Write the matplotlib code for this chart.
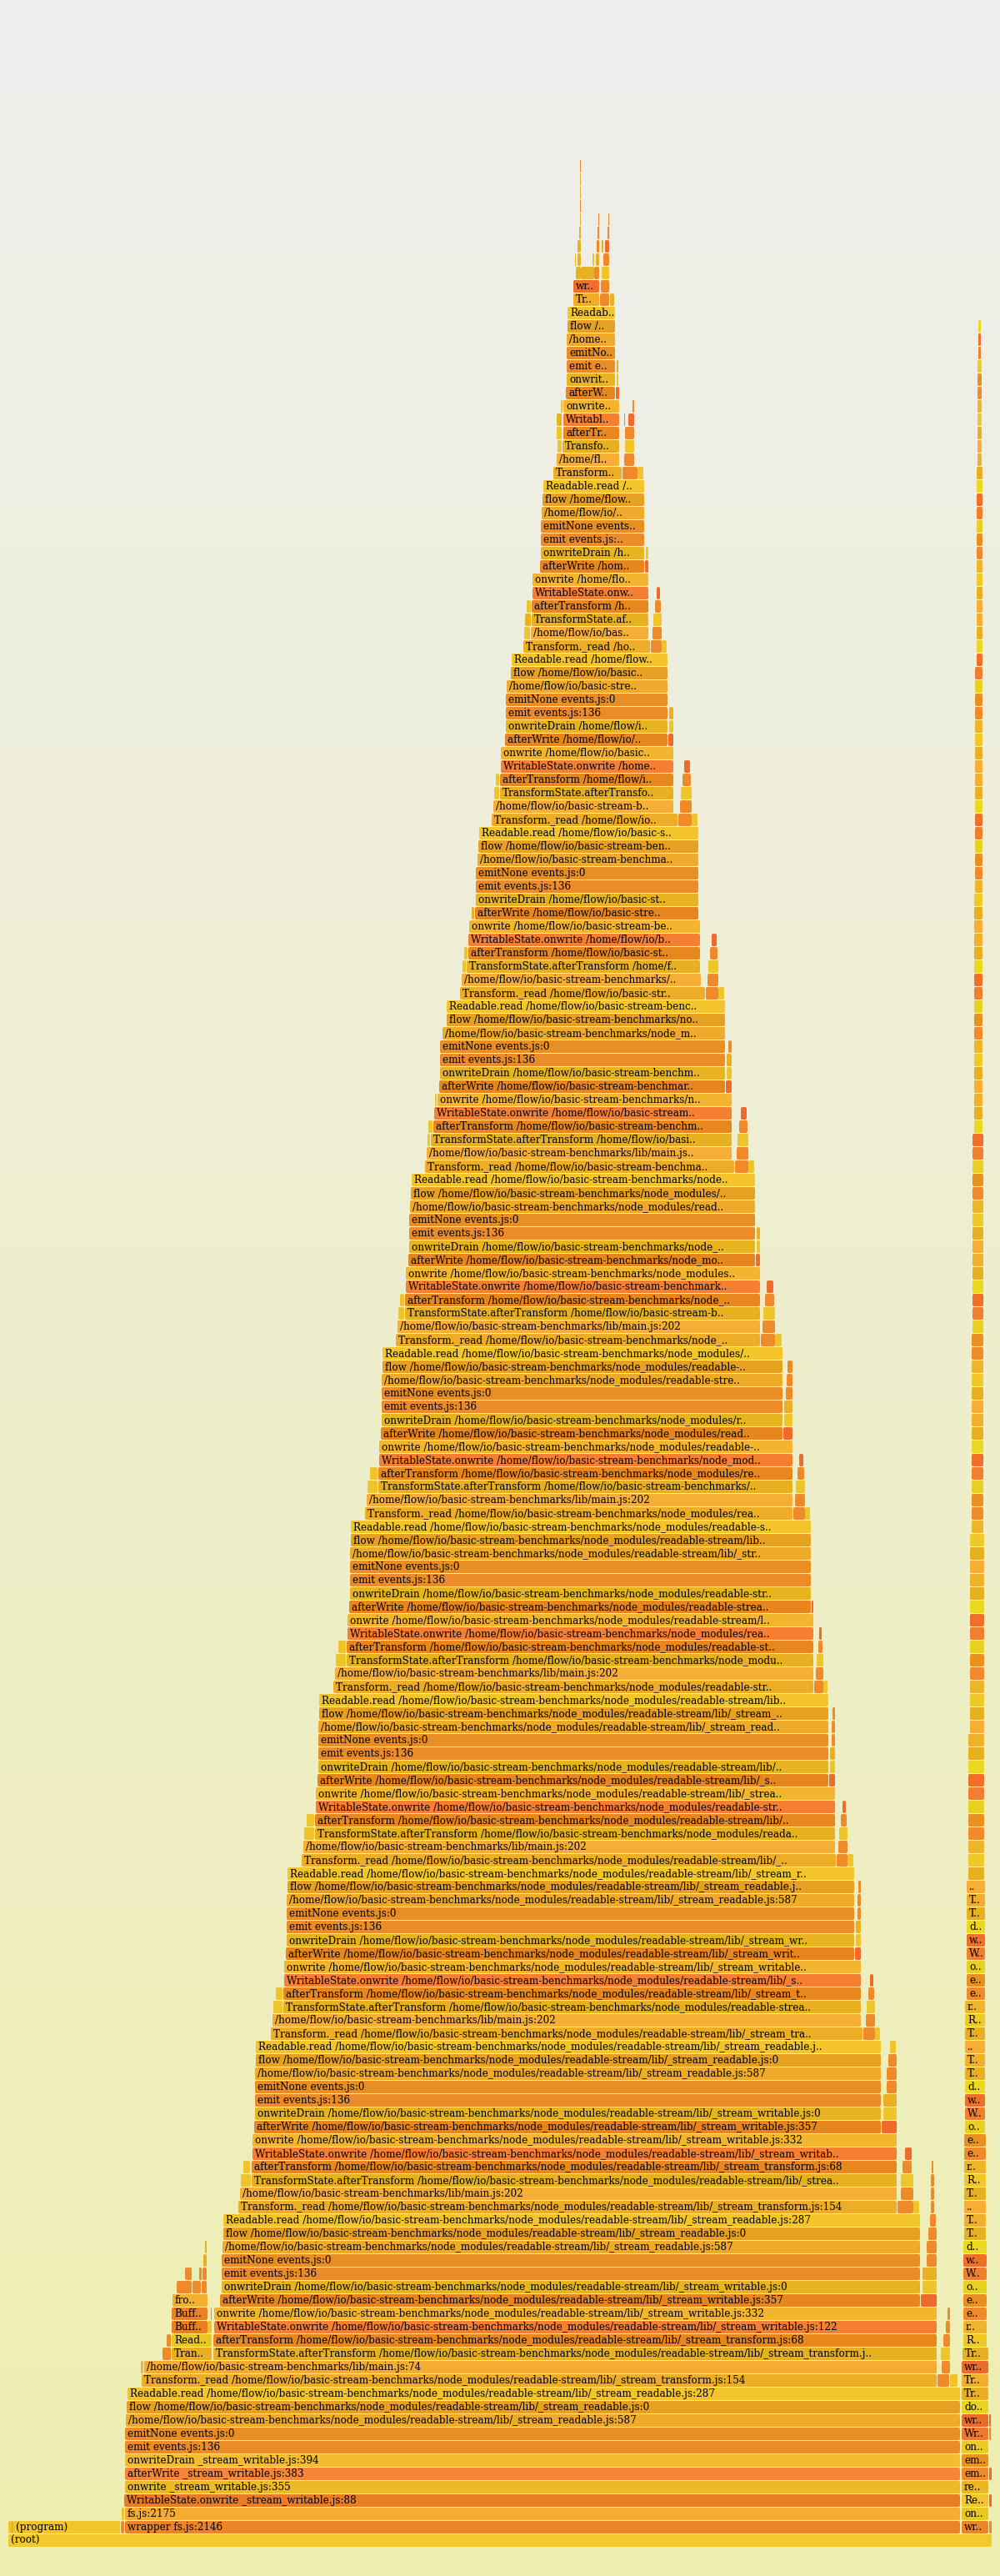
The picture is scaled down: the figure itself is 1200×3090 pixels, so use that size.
import numpy as np
import matplotlib
matplotlib.use('Agg')
import matplotlib.pyplot as plt
from matplotlib.patches import FancyBboxPatch
from matplotlib.colors import LinearSegmentedColormap

P = "/home/flow/io/basic-stream-benchmarks/node_modules/readable-stream/lib"

# frame names (a leading space marks anonymous frames, as in the profile)
names = {
    'root': "(root)",
    'program': "(program)",
    'wrapper': "wrapper fs.js:2146",
    'fs2175': "fs.js:2175",
    'wso88': "WritableState.onwrite _stream_writable.js:88",
    'ow355': "onwrite _stream_writable.js:355",
    'aw383': "afterWrite _stream_writable.js:383",
    'od394': "onwriteDrain _stream_writable.js:394",
    'emit': "emit events.js:136",
    'emitNone': "emitNone events.js:0",
    'r587': " " + P + "/_stream_readable.js:587",
    'flow': "flow " + P + "/_stream_readable.js:0",
    'rr': "Readable.read " + P + "/_stream_readable.js:287",
    'tr': "Transform._read " + P + "/_stream_transform.js:154",
    'm74': "/home/flow/io/basic-stream-benchmarks/lib/main.js:74",
    'm202': "/home/flow/io/basic-stream-benchmarks/lib/main.js:202",
    'tsa': "TransformState.afterTransform " + P + "/_stream_transform.js:79",
    'at': "afterTransform " + P + "/_stream_transform.js:68",
    'wso': "WritableState.onwrite " + P + "/_stream_writable.js:122",
    'ow': "onwrite " + P + "/_stream_writable.js:332",
    'aw': "afterWrite " + P + "/_stream_writable.js:357",
    'od': "onwriteDrain " + P + "/_stream_writable.js:0",
    'wob': "writeOrBuffer " + P + "/_stream_writable.js:300",
    'tpush': "Transform.push " + P + "/_stream_transform.js:139",
    'rpush': "Readable.push " + P + "/_stream_readable.js:125",
    'bfrom': "Buffer.from buffer.js:0",
    'bfrom2': "Buffer.from buffer.js:86",
    'fromstr': "fromString buffer.js:0",
    'c_T': "TransformState.afterTransform",
    'c_R': "Readable.push",
    'c_r': "readableAddChunk",
    'c_e1': "emitOne events.js:96",
    'c_e2': "emit events.js:188",
    'c_o': "ondata",
    'c_W': "Writable.write",
    'c_w': "writeOrBuffer",
    'c_d': "doWrite",
    'c_T2': "Transform._write",
    'c_T3': "Transform._transform",
    'c_an': " /home/flow/io/basic-stream-benchmarks/lib/main.js:181",
    'b_wr': "wrapper fs.js:2146",
    'b_on': "onread fs.js:1918",
    'b_Re': "ReadStream._read fs.js:1900",
    'b_re': "readableAddChunk _stream_readable.js:153",
    'b_em1': "emitOne events.js:96",
    'b_em2': "emit events.js:188",
    'b_on2': "ondata _stream_readable.js:556",
    'b_Wr': "Writable.write _stream_writable.js:239",
    'b_wr2': "writeOrBuffer _stream_writable.js:324",
    'b_do': "doWrite _stream_writable.js:340",
    'b_Tr': "Transform._write _stream_transform.js:167",
    'b_Tr2': "Transform._read _stream_transform.js:154",
    'b_wr3': "wrapper /home/flow/io/basic-stream-benchmarks/lib/main.js:60",
}

colors = {
    'root': '#F3C82C', 'program': '#F2C52C', 'wrapper': '#EB8426',
    'fs2175': '#F6AC30', 'wso88': '#EA7D24', 'ow355': '#ECBA24',
    'aw383': '#F88636', 'od394': '#F4BC30', 'emit': '#EC8C28',
    'emitNone': '#E88E22', 'r587': '#EEAA28', 'flow': '#E7A020',
    'rr': '#F3C52A', 'tr': '#EDAD26', 'm74': '#F5AC30', 'm202': '#F7AE34',
    'tsa': '#E6B020', 'at': '#E8871C', 'wso': '#F77F32', 'ow': '#F4B52E',
    'aw': '#E8861E', 'od': '#E7B41F', 'wob': '#F07028',
    'tpush': '#E8B020', 'rpush': '#E8C820', 'bfrom': '#E88020',
    'bfrom2': '#E88224', 'fromstr': '#F0B030',
    'c_T': '#E6B020', 'c_R': '#F0C828', 'c_r': '#EFB52A', 'c_e1': '#F08A2A',
    'c_e2': '#E89020', 'c_o': '#E8D020', 'c_W': '#F08030', 'c_w': '#F07028',
    'c_d': '#EDD820', 'c_T2': '#E6B020', 'c_T3': '#F0B02C', 'c_an': '#F8AE34',
    'b_wr': '#EC8428', 'b_on': '#E6C820', 'b_Re': '#F2C42E', 'b_re': '#EBB624',
    'b_em1': '#F08A2C', 'b_em2': '#E89222', 'b_on2': '#EACB22',
    'b_Wr': '#F07A2C', 'b_wr2': '#EE6A28', 'b_do': '#E8D420',
    'b_Tr': '#E8B020', 'b_Tr2': '#F0B02E', 'b_wr3': '#EE6A2A',
    'o': '#EE8A2A', 'y': '#EFC42A', 'g': '#E8B022', 'r': '#F06A2C', 'l': '#F6B23A',
}

# ---- main tower: one frame per depth (0 = root) ----
main_frame = (['root', 'wrapper', 'fs2175', 'wso88', 'ow355', 'aw383', 'od394', 'emit',
               'emitNone', 'r587', 'flow', 'rr',
               'tr', 'm74', 'tsa', 'at', 'wso', 'ow', 'aw', 'od', 'emit', 'emitNone',
               'r587', 'flow', 'rr']
              + ['tr', 'm202', 'tsa', 'at', 'wso', 'ow', 'aw', 'od', 'emit', 'emitNone',
                 'r587', 'flow', 'rr'] * 11
              + ['tr', 'wob'])
main_frame = main_frame[:168] + ['tr', 'wob']

main_x0 = [10, 150, 150, 149, 150, 150, 150, 150, 150, 151, 152, 153,
           170, 173, 256, 256, 257, 257, 264, 266, 266, 266, 267, 268, 268,
           286, 288, 302, 302, 303, 303, 305, 306, 306, 306, 306, 307, 307,
           325, 327, 340, 340, 341, 341, 343, 344, 344, 344, 344, 345, 345,
           362, 364, 378, 378, 379, 379, 381, 382, 382, 382, 382, 383, 383,
           400, 402, 416, 416, 417, 417, 419, 420, 420, 420, 420, 421, 421,
           438, 440, 454, 454, 455, 455, 457, 458, 458, 458, 458, 459, 459,
           475, 477, 486, 486, 487, 487, 490, 491, 491, 491, 492, 493, 494,
           510, 512, 517, 520, 521, 525, 527, 528, 528, 528, 531, 536, 536,
           552, 554, 560, 562, 562, 563, 570, 571, 571, 571, 573, 574, 575,
           590, 592, 600, 600, 601, 601, 606, 607, 607, 607, 608, 613, 614,
           628, 637, 638, 638, 639, 639, 648, 649, 649, 649, 650, 651, 652,
           664, 668, 675, 676, 676, 676, 679, 680, 680, 680, 680, 681, 681,
           688, 688]
main_x1 = [1190, 1152, 1152, 1152, 1152, 1152, 1152, 1152, 1152, 1152, 1152, 1152,
           1124, 1124, 1124, 1124, 1124, 1124, 1104, 1104, 1104, 1104, 1104, 1104, 1104,
           1076, 1076, 1076, 1076, 1076, 1076, 1057, 1057, 1057, 1057, 1057, 1057, 1057,
           1035, 1033, 1033, 1033, 1033, 1033, 1025, 1025, 1025, 1025, 1025, 1025, 1025,
           1003, 1002, 1002, 1002, 1002, 1002, 994, 994, 994, 994, 994, 994, 994,
           976, 976, 976, 976, 976, 976, 973, 973, 973, 973, 973, 973, 973,
           951, 951, 951, 951, 951, 951, 939, 939, 939, 939, 939, 939, 939,
           912, 912, 912, 912, 912, 912, 906, 906, 906, 906, 906, 906, 906,
           881, 878, 878, 878, 878, 878, 870, 870, 870, 870, 870, 870, 870,
           846, 841, 840, 840, 840, 840, 838, 838, 838, 838, 838, 838, 838,
           813, 808, 808, 808, 808, 808, 801, 801, 801, 801, 801, 801, 801,
           780, 778, 778, 778, 778, 778, 773, 773, 773, 773, 773, 773, 773,
           746, 743, 743, 743, 743, 743, 738, 738, 738, 738, 738, 738, 738,
           719, 719]

# ---- narrow column on the right (depth 1 .. 166) ----
side_frame = (['b_wr', 'b_on', 'b_Re', 'b_re', 'b_em1', 'b_em2', 'b_on2', 'b_Wr', 'b_wr2',
               'b_do', 'b_Tr', 'b_Tr2', 'b_wr3']
              + ['c_T', 'c_R', 'c_r', 'c_e1', 'c_e2', 'c_o', 'c_W', 'c_w', 'c_d', 'c_T2',
                 'c_T3', 'c_an'] * 13)[:166]
side_x0 = ([1154] * 13 + [1155] + [1156] * 8 + [1157] * 8 + [1158] * 10 + [1160] * 9
           + [1162] * 11 + [1164] * 15 + [1166] * 15 + [1167] * 15 + [1169] * 18
           + [1170] * 17 + [1172] * 15 + [1173] * 8 + [1174] * 3)
side_x1 = ([1186] * 14 + [1184] * 8 + [1183] * 8 + [1182] * 19
           + [1181] * 26 + [1180] * 30 + [1179] * 50 + [1178] * 8 + [1177] * 3)

# ---- labelled frames left of the tower ----
left_depth = [1, 14, 15, 16, 17, 18]
left_frame = ['program', 'tpush', 'rpush', 'bfrom', 'bfrom2', 'fromstr']
left_x0 = [16, 206, 206, 206, 206, 207]
left_x1 = [144, 254, 254, 249, 249, 249]

# ---- small frames (depth, start, end, colour key) ----
small_bottom = [(1, 10, 13, 'y'), (1, 13, 16, 'g'), (1, 145, 149, 'o'), (2, 146, 149, 'y'),
                (1, 1187, 1190, 'o'), (3, 1187, 1190, 'r'), (5, 1187, 1190, 'r'),
                (8, 1187, 1189, 'o'), (9, 1187, 1189, 'r'),
                (12, 1125, 1139, 'o'), (12, 1140, 1149, 'y'), (13, 1130, 1140, 'o'),
                (13, 169, 172, 'l'), (14, 195, 205, 'o'), (14, 1129, 1140, 'y'),
                (15, 200, 205, 'o'), (15, 1132, 1140, 'o'), (16, 249, 254, 'y'),
                (16, 1135, 1140, 'o'), (17, 253, 254, 'o'), (17, 1137, 1140, 'o'),
                (18, 1105, 1124, 'r'), (19, 212, 230, 'o'), (19, 231, 241, 'o'),
                (19, 242, 248, 'o'), (19, 1107, 1124, 'y'), (20, 222, 230, 'o'),
                (20, 239, 242, 'o'), (20, 243, 248, 'o'), (20, 1107, 1124, 'g'),
                (21, 244, 248, 'g'), (21, 1112, 1124, 'o'), (22, 246, 248, 'g'),
                (22, 1112, 1124, 'o'), (23, 1114, 1124, 'o'), (24, 1116, 1123, 'o')]

small_right = [
    (25, 1077, 1096, 'o'), (25, 1096, 1103, 'y'), (25, 1117, 1121, 'o'), (26, 1081, 1096, 'o'),
    (26, 1117, 1121, 'o'), (27, 1081, 1096, 'y'), (27, 1117, 1121, 'o'), (28, 1083, 1094, 'o'),
    (28, 1118, 1120, 'o'), (29, 1086, 1094, 'r'), (31, 1058, 1076, 'r'), (32, 1060, 1076, 'y'),
    (33, 1060, 1076, 'g'), (34, 1064, 1076, 'o'), (35, 1064, 1076, 'o'), (36, 1066, 1076, 'o'),
    (37, 1068, 1075, 'y'),
    (38, 1036, 1050, 'o'), (38, 1050, 1056, 'y'), (39, 1039, 1050, 'o'), (40, 1040, 1050, 'y'),
    (41, 1042, 1049, 'o'), (42, 1044, 1048, 'r'), (44, 1026, 1033, 'r'), (45, 1027, 1033, 'y'),
    (46, 1027, 1033, 'g'), (47, 1029, 1033, 'o'), (48, 1029, 1033, 'o'), (49, 1030, 1033, 'o'),
    (51, 1004, 1017, 'o'), (51, 1017, 1024, 'y'), (52, 1006, 1017, 'o'), (53, 1007, 1017, 'y'),
    (54, 1009, 1016, 'o'), (55, 1011, 1015, 'r'), (57, 995, 1002, 'r'), (58, 996, 1002, 'y'),
    (59, 996, 1002, 'g'), (60, 998, 1002, 'o'), (61, 998, 1002, 'o'), (62, 999, 1002, 'o'),
    (64, 977, 988, 'o'), (64, 988, 993, 'y'), (65, 979, 988, 'o'), (66, 980, 988, 'y'),
    (67, 982, 987, 'o'), (68, 983, 986, 'r'), (70, 974, 976, 'r'),
    (77, 952, 966, 'o'), (77, 966, 972, 'y'), (78, 954, 966, 'o'), (79, 955, 966, 'y'),
    (80, 957, 965, 'o'), (81, 959, 964, 'r'), (83, 940, 951, 'r'), (84, 941, 951, 'y'),
    (85, 941, 951, 'g'), (86, 943, 951, 'o'), (87, 944, 951, 'o'), (88, 945, 951, 'o'),
    (90, 913, 930, 'o'), (90, 930, 938, 'y'), (91, 915, 930, 'o'), (92, 916, 930, 'y'),
    (93, 918, 929, 'o'), (94, 920, 928, 'r'), (96, 907, 912, 'r'), (97, 908, 912, 'y'),
    (98, 908, 912, 'g'),
    (103, 882, 898, 'o'), (103, 898, 905, 'y'), (104, 884, 898, 'o'), (105, 885, 898, 'y'),
    (106, 887, 897, 'o'), (107, 889, 896, 'r'), (109, 871, 878, 'r'), (110, 872, 878, 'y'),
    (111, 872, 878, 'g'), (112, 874, 878, 'o'),
    (116, 847, 862, 'o'), (116, 862, 869, 'y'), (117, 849, 862, 'o'), (118, 850, 862, 'y'),
    (119, 852, 861, 'o'), (120, 854, 860, 'r'),
    (129, 814, 830, 'o'), (129, 830, 837, 'y'), (130, 816, 830, 'o'), (131, 817, 830, 'y'),
    (132, 819, 829, 'o'), (133, 821, 828, 'r'), (135, 802, 808, 'r'), (136, 803, 808, 'y'),
    (137, 803, 808, 'g'),
    (142, 781, 794, 'o'), (142, 794, 800, 'y'), (143, 783, 794, 'o'), (144, 784, 794, 'y'),
    (145, 786, 793, 'o'), (146, 788, 792, 'r'), (148, 774, 778, 'r'), (149, 775, 778, 'y'),
    (155, 747, 765, 'o'), (155, 765, 772, 'y'), (156, 749, 761, 'o'), (157, 750, 761, 'y'),
    (158, 750, 761, 'o'), (159, 754, 761, 'r'), (159, 749, 750, 'o'), (160, 759, 761, 'o'),
    (161, 739, 743, 'r'), (162, 740, 742, 'y'), (163, 740, 742, 'g')]

small_left = [(27, 289, 301, 'y'), (28, 292, 300, 'y'), (40, 328, 339, 'y'), (41, 331, 339, 'y'),
              (53, 365, 377, 'y'), (54, 368, 377, 'y'), (66, 403, 415, 'y'), (67, 406, 415, 'y'),
              (79, 441, 453, 'y'), (80, 444, 453, 'y'), (92, 478, 485, 'y'), (93, 480, 485, 'y'),
              (105, 513, 516, 'y'), (106, 514, 519, 'y'), (108, 522, 524, 'y'),
              (118, 555, 559, 'y'), (119, 557, 561, 'y'), (122, 566, 569, 'g'),
              (131, 593, 599, 'y'), (132, 595, 599, 'y'), (143, 629, 636, 'y'),
              (144, 630, 637, 'g'), (145, 632, 637, 'y'), (157, 669, 674, 'y'),
              (158, 668, 674, 'y'), (159, 668, 674, 'g'), (160, 673, 675, 'y')]

small_top = [(168, 720, 731, 'o'), (168, 732, 737, 'g'), (169, 721, 731, 'o'),
             (170, 691, 697, 'g'), (170, 697, 713, 'g'), (170, 713, 719, 'o'), (170, 722, 731, 'y'),
             (171, 690, 691, 'g'), (171, 693, 697, 'g'), (171, 711, 713, 'y'), (171, 715, 719, 'g'),
             (171, 724, 731, 'o'), (172, 693, 697, 'g'), (172, 716, 719, 'o'), (172, 722, 724, 'g'),
             (172, 726, 731, 'r'), (173, 695, 697, 'g'), (173, 717, 719, 'o'), (173, 729, 731, 'o'),
             (174, 696, 697, 'g'), (174, 718, 719, 'o'), (174, 730, 731, 'o'),
             (175, 696, 697, 'o'), (176, 696, 697, 'g'), (177, 696, 697, 'g'), (178, 696, 697, 'o')]

ROW = 16.0        # pixel pitch of a row
FONT_PX = 12.0
CHAR_W = FONT_PX * 0.59

fig = plt.figure(figsize=(12, 30.9), dpi=100)
ax = fig.add_axes([0, 0, 1, 1])
ax.set_xlim(0, 1200)
ax.set_ylim(-34 / ROW, 3056 / ROW)
ax.axis('off')

cmap = LinearSegmentedColormap.from_list('bg', ['#eeeeee', '#eeeeb0'])
ax.imshow(np.linspace(0, 1, 256).reshape(-1, 1), cmap=cmap, aspect='auto',
          extent=[0, 1200, -34 / ROW, 3056 / ROW], zorder=0)


def frame(d, x0, x1, color, label=None):
    w = x1 - x0
    box = FancyBboxPatch((x0, d + 1 / ROW), w, 15 / ROW,
                         boxstyle="round,pad=0,rounding_size=%g" % min(2.0, w / 2.0),
                         mutation_aspect=1 / ROW, linewidth=0,
                         facecolor=color, zorder=2)
    ax.add_patch(box)
    if label is None:
        return
    chars = int(w / CHAR_W)
    if chars < 3:
        return
    text = label[:chars]
    if chars < len(label):
        text = text[:-2] + ".."
    ax.text(x0 + 3, d + 5 / ROW, text.lstrip(), fontsize=FONT_PX * 72 / 100,
            family='DejaVu Serif', color='#000000', va='baseline', ha='left', zorder=3)


for d, k in enumerate(main_frame):
    frame(d, main_x0[d], main_x1[d], colors[k], names[k])

for i, k in enumerate(side_frame):
    frame(i + 1, side_x0[i], side_x1[i], colors[k], names[k])

for d, k, a, b in zip(left_depth, left_frame, left_x0, left_x1):
    frame(d, a, b, colors[k], names[k])

for d, a, b, k in small_bottom + small_right + small_left + small_top:
    frame(d, a, b, colors[k])

fig.savefig('out.png', dpi=100)
